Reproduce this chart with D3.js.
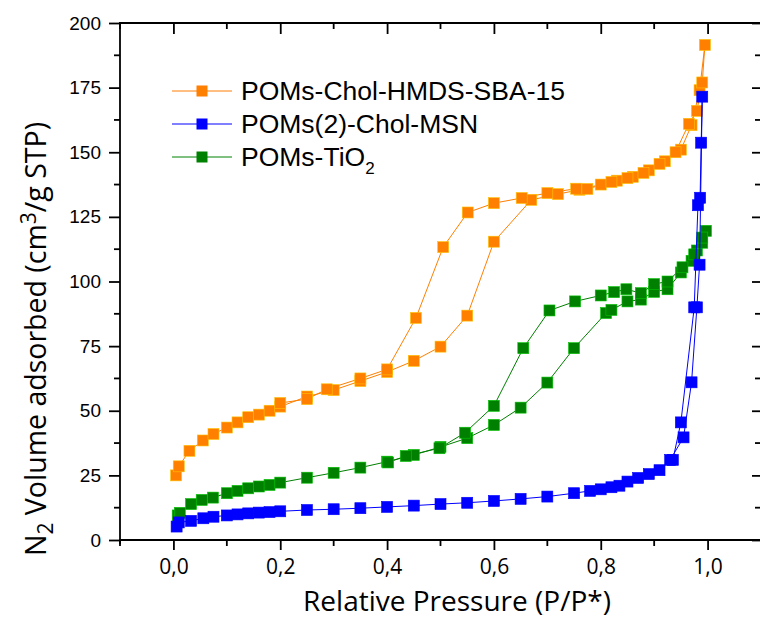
<!DOCTYPE html>
<html>
<head>
<meta charset="utf-8">
<script src="https://cdn.jsdelivr.net/npm/d3@7"></script>
<style>
  body { margin: 0; background: #fff; }
  svg { display: block; }
</style>
</head>
<body>
<script>
// N2 adsorption / desorption isotherms, points in measuring order (up, then back down)
var sbaP = [0.005, 0.01, 0.03, 0.055, 0.075, 0.10, 0.12, 0.14, 0.16, 0.18, 0.20, 0.25, 0.30, 0.35, 0.40, 0.45, 0.50, 0.55, 0.60, 0.67, 0.72, 0.76, 0.80, 0.83, 0.86, 0.89, 0.92, 0.95, 0.97, 0.985, 0.995,
            0.99, 0.98, 0.965, 0.94, 0.91, 0.88, 0.85, 0.82, 0.775, 0.754, 0.70, 0.652, 0.60, 0.551, 0.505, 0.454, 0.40, 0.35, 0.287, 0.25, 0.20];
var sbaV = [25, 28.5, 34.5, 38.5, 41, 43.5, 45.5, 47.5, 48.5, 50, 51.6, 55.5, 58, 61.5, 65, 69.3, 74.8, 86.8, 115.4, 131.6, 133.8, 135.5, 137.5, 139, 140.5, 143, 146.5, 151, 160.5, 174, 191.5,
            177, 166, 161, 150, 145.5, 142, 140, 138.5, 135.8, 135.9, 134.2, 132.3, 130.3, 126.7, 113.3, 85.9, 66, 62.5, 58.3, 54.5, 53];

var msnP = [0.006, 0.01, 0.033, 0.056, 0.075, 0.10, 0.12, 0.14, 0.16, 0.18, 0.20, 0.25, 0.30, 0.35, 0.40, 0.45, 0.50, 0.55, 0.60, 0.65, 0.70, 0.75, 0.78, 0.80, 0.82, 0.835, 0.85, 0.87, 0.89, 0.91, 0.93, 0.955, 0.97, 0.98, 0.985, 0.99,
            0.988, 0.986, 0.982, 0.975, 0.95, 0.935];
var msnV = [5.2, 6.8, 7.4, 8.4, 9, 9.5, 9.9, 10.3, 10.6, 10.8, 11.1, 11.6, 11.9, 12.3, 12.8, 13.3, 13.9, 14.4, 15.1, 15.9, 16.8, 18.1, 19, 19.6, 20.4, 21, 22.6, 24, 25.5, 27, 31, 39.7, 61, 90, 106.5, 171.5,
            153.7, 132.4, 129.5, 90, 45.5, 31];

var tioP = [0.008, 0.012, 0.033, 0.053, 0.074, 0.10, 0.12, 0.14, 0.16, 0.18, 0.20, 0.25, 0.30, 0.35, 0.40, 0.45, 0.50, 0.55, 0.60, 0.65, 0.70, 0.75, 0.81, 0.82, 0.85, 0.875, 0.90, 0.925, 0.95, 0.97, 0.98, 0.99, 0.997,
            0.99, 0.975, 0.953, 0.925, 0.90, 0.875, 0.848, 0.825, 0.80, 0.752, 0.704, 0.655, 0.60, 0.546, 0.498, 0.435, 0.402];
var tioV = [9.5, 10.5, 13.9, 15.5, 16.4, 18.1, 19, 20, 20.7, 21.3, 22.2, 24.1, 26, 28, 30.3, 32.9, 36, 39.4, 44.5, 51.2, 60.9, 74.2, 87.8, 89, 92.3, 93, 96, 97, 103.5, 108, 112, 115, 119.6,
            117, 110.5, 105.5, 100, 99, 95.5, 97, 95.9, 94.6, 92.3, 88.8, 74.2, 51.9, 41.5, 35.5, 32.5, 30];

var seriesNames = ["POMs-Chol-HMDS-SBA-15", "POMs(2)-Chol-MSN", "POMs-TiO2"];
var seriesColors = ["#ff7f00", "#0000ff", "#008000"];
var xTicks = [0, 0.2, 0.4, 0.6, 0.8, 1.0];
var yTicks = [0, 25, 50, 75, 100, 125, 150, 175, 200];

var width = 760, height = 619;
var pL = 120, pR = 761, pT = 23, pB = 540;   // plot box ("top" is taken by window)

var x = d3.scaleLinear().domain([-0.1, 1.1]).range([pL, pR]);
var y = d3.scaleLinear().domain([0, 200]).range([pB, pT]);

var svg = d3.select("body").append("svg")
    .attr("width", width)
    .attr("height", height);

var zip = function(ps, vs) { return ps.map(function(p, i) { return {p: p, v: vs[i]}; }); };
var series = [
  {name: seriesNames[0], color: seriesColors[0], pts: zip(sbaP, sbaV)},
  {name: seriesNames[1], color: seriesColors[1], pts: zip(msnP, msnV)},
  {name: seriesNames[2], color: seriesColors[2], pts: zip(tioP, tioV)}
];

// minor ticks halfway between the labelled ones
var minorX = [-0.1, 0.1, 0.3, 0.5, 0.7, 0.9, 1.1];
var minorY = d3.range(12.5, 200, 25);

var fmtX = function(d) { return d3.format(".1f")(d).replace(".", ","); };

var gB = svg.append("g").attr("transform", "translate(0," + pB + ")")
    .call(d3.axisBottom(x).tickValues(xTicks).tickSize(10).tickPadding(9).tickFormat(fmtX));
var gL = svg.append("g").attr("transform", "translate(" + pL + ",0)")
    .call(d3.axisLeft(y).tickValues(yTicks).tickSize(11).tickPadding(8));
var gT = svg.append("g").attr("transform", "translate(0," + pT + ")")
    .call(d3.axisTop(x).tickValues(xTicks).tickSize(-11).tickFormat(""));
var gR = svg.append("g").attr("transform", "translate(" + pR + ",0)")
    .call(d3.axisRight(y).tickValues(yTicks).tickSize(-9).tickFormat(""));

gB.append("g").selectAll("line").data(minorX).enter().append("line")
    .attr("x1", x).attr("x2", x).attr("y1", 0).attr("y2", 6);
gT.append("g").selectAll("line").data(minorX).enter().append("line")
    .attr("x1", x).attr("x2", x).attr("y1", 0).attr("y2", 6);
gL.append("g").selectAll("line").data(minorY).enter().append("line")
    .attr("y1", y).attr("y2", y).attr("x1", 0).attr("x2", -6);
gR.append("g").selectAll("line").data(minorY).enter().append("line")
    .attr("y1", y).attr("y2", y).attr("x1", 0).attr("x2", -6);

gB.select(".domain").attr("d", "M" + (pL - 1) + ",0H" + pR);
gT.select(".domain").attr("d", "M" + (pL - 1) + ",0H" + pR);
gL.select(".domain").attr("d", "M0," + (pT - 1) + "V" + (pB + 4));
gR.select(".domain").attr("d", "M0," + pT + "V" + pB);

[gB, gL, gT, gR].forEach(function(g) {
  g.select(".domain").attr("stroke", "#000").attr("stroke-width", 1.8);
  g.selectAll("line").attr("stroke", "#000").attr("stroke-width", 1.8);
});

gB.selectAll("text").attr("font-family", "'Open Sans', sans-serif").attr("font-size", 21).attr("fill", "#000");
gL.selectAll("text").attr("font-family", "'Liberation Sans', Arial, sans-serif").attr("font-size", 19).attr("fill", "#000");

// axis titles
svg.append("text")
    .attr("x", 457).attr("y", 611)
    .attr("text-anchor", "middle")
    .attr("font-family", "'Open Sans', sans-serif").attr("font-size", 28)
    .text("Relative Pressure (P/P*)");

var yt = svg.append("text")
    .attr("transform", "translate(46,339) rotate(-90)")
    .attr("text-anchor", "middle")
    .attr("font-family", "'Open Sans', sans-serif").attr("font-size", 28.5);
yt.append("tspan").text("N");
yt.append("tspan").attr("dy", 7).attr("font-size", 21).text("2");
yt.append("tspan").attr("dy", -7).text(" Volume adsorbed (cm");
yt.append("tspan").attr("dy", -10).attr("font-size", 21).text("3");
yt.append("tspan").attr("dy", 10).text("/g STP)");

// curves: orange, green, then blue on top
var line = d3.line().x(function(d) { return x(d.p); }).y(function(d) { return y(d.v); });
var ms = 11;
[series[0], series[2], series[1]].forEach(function(s) {
  var g = svg.append("g");
  g.append("path").datum(s.pts)
      .attr("d", line)
      .attr("fill", "none")
      .attr("stroke", s.color)
      .attr("stroke-width", 1);
  g.selectAll("rect").data(s.pts).enter().append("rect")
      .attr("x", function(d) { return x(d.p) - ms / 2; })
      .attr("y", function(d) { return y(d.v) - ms / 2; })
      .attr("width", ms).attr("height", ms)
      .attr("fill", s.color)
      .attr("stroke", d3.color(s.color).brighter(1.2))
      .attr("stroke-width", 0.6);
});

// legend
var lg = svg.append("g").attr("transform", "translate(172,91)");
series.forEach(function(s, i) {
  var r = lg.append("g").attr("transform", "translate(0," + (i * 33) + ")");
  r.append("line").attr("x1", 0).attr("x2", 60).attr("stroke", s.color).attr("stroke-width", 1);
  r.append("rect").attr("x", 30 - ms / 2).attr("y", -ms / 2).attr("width", ms).attr("height", ms)
      .attr("fill", s.color);
  var t = r.append("text").attr("x", 69).attr("y", 9)
      .attr("font-family", "'Liberation Sans', Arial, sans-serif").attr("font-size", 26.5);
  if (s.name === "POMs-TiO2") {
    t.append("tspan").text("POMs-TiO");
    t.append("tspan").attr("dy", 8).attr("font-size", 17).text("2");
  } else {
    t.text(s.name);
  }
});
</script>
</body>
</html>
